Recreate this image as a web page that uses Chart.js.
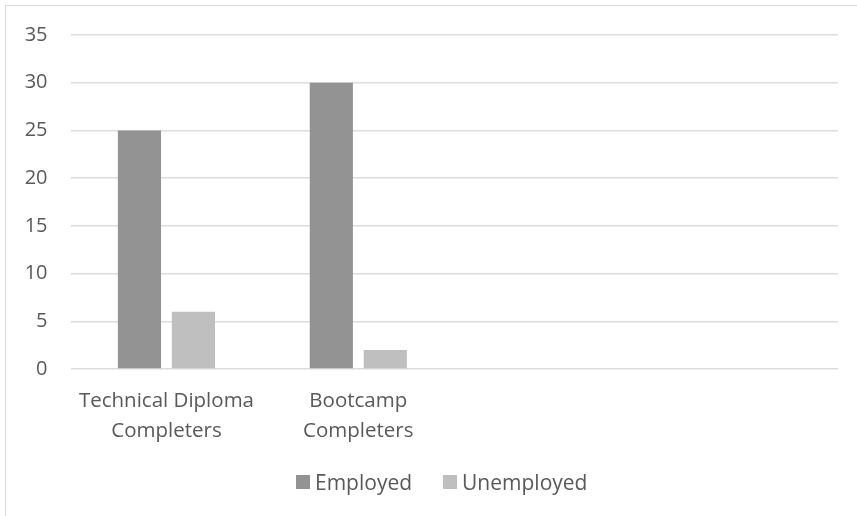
<!DOCTYPE html>
<html>
<head>
<meta charset="utf-8">
<script src="https://cdn.jsdelivr.net/npm/chart.js@4"></script>
<style>
  html, body { margin: 0; padding: 0; background: #fff; }
  .box { position: relative; width: 857px; height: 516px; overflow: hidden; }
  .frame { position: absolute; left: 5px; top: 5px; width: 900px; height: 600px;
           border-left: 1px solid #d9d9d9; border-top: 1px solid #d9d9d9; }
  .legend { position: absolute; left: 296px; top: 470px; display: flex; align-items: center;
            font: 21px "Open Sans", sans-serif; color: #595959; line-height: 24px; }
  .legend .item { display: flex; align-items: center; margin-right: 31px; }
  .legend .sw { width: 14px; height: 14px; margin-right: 5px; }
</style>
</head>
<body>
<div class="box">
  <div class="frame"></div>
  <canvas id="chart"></canvas>
  <div class="legend" id="legend"></div>
</div>
<script>
// ---- data ----
const categories = [['Technical Diploma', 'Completers'], ['Bootcamp', 'Completers'], '', ''];
const employed   = [25, 30, null, null];
const unemployed = [6, 2, null, null];
const yTicks     = [0, 5, 10, 15, 20, 25, 30, 35];

const seriesNames  = ['Employed', 'Unemployed'];
const seriesColors = ['#939393', '#bfbfbf'];

const FONT = '"Open Sans", sans-serif';
const TEXT = '#595959';

// simple legend under the plot
const legendEl = document.getElementById('legend');
seriesNames.forEach((name, i) => {
  legendEl.insertAdjacentHTML('beforeend',
    `<div class="item"><div class="sw" style="background:${seriesColors[i]}"></div>${name}</div>`);
});

const ctx = document.getElementById('chart').getContext('2d');
new Chart(ctx, {
  type: 'bar',
  data: {
    labels: categories,
    datasets: [
      { label: seriesNames[0], data: employed,   backgroundColor: seriesColors[0] },
      { label: seriesNames[1], data: unemployed, backgroundColor: seriesColors[1] }
    ]
  },
  options: {
    responsive: true,
    maintainAspectRatio: false,
    animation: false,
    categoryPercentage: 0.5625,
    barPercentage: 0.8,
    layout: { padding: { left: 0, right: 19, top: 33, bottom: 0 } },
    plugins: { legend: { display: false }, tooltip: { enabled: false } },
    scales: {
      x: {
        grid: { display: false },
        border: { display: false },
        ticks: { color: TEXT, font: { family: FONT, size: 20.5, lineHeight: 1.46 }, padding: 9,
                 maxRotation: 0, autoSkip: false },
        afterFit: s => { s.height = 147; }
      },
      y: {
        min: 0, max: 35,
        afterBuildTicks: s => { s.ticks = yTicks.map(v => ({ value: v })); },
        grid: { color: '#dcdcdc', lineWidth: 1.5, drawTicks: false },
        border: { display: false },
        ticks: { color: TEXT, font: { family: FONT, size: 20 }, padding: 23 },
        afterFit: s => { s.width = 70.5; }
      }
    }
  }
});
</script>
</body>
</html>
